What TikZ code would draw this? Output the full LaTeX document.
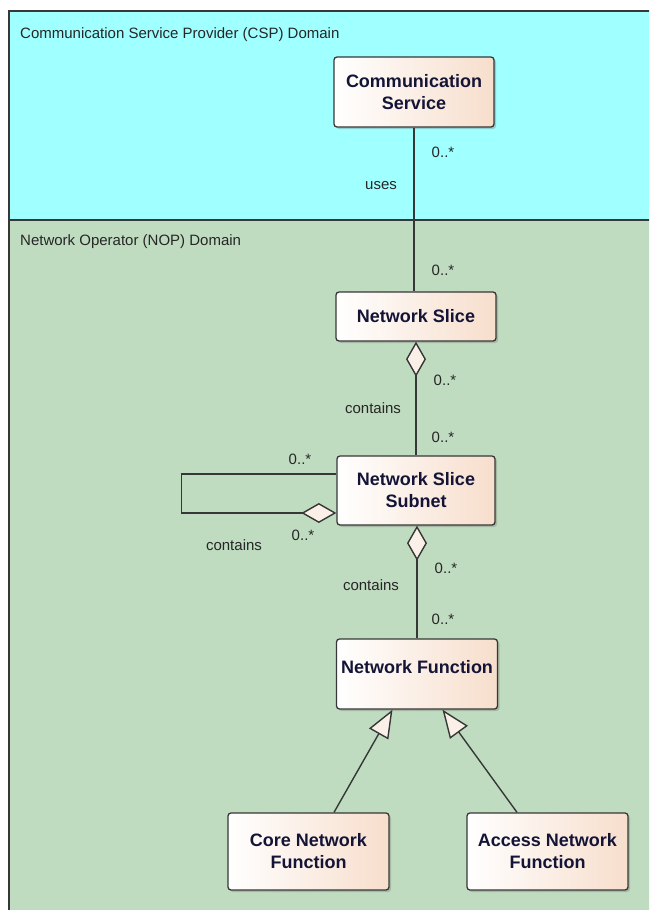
\documentclass[tikz,border=0pt]{standalone}
\usepackage{fontspec}
\setmainfont{Liberation Sans}
\usetikzlibrary{arrows.meta,shadows}

\definecolor{cspcyan}{RGB}{160,255,255}
\definecolor{nopgreen}{RGB}{192,220,192}
\definecolor{peach}{RGB}{247,222,204}
\definecolor{navy}{RGB}{20,20,55}
\definecolor{edge}{RGB}{55,55,55}

\tikzset{
    cls/.style={draw=edge, line width=1.3pt, rounded corners=3pt,
        left color=white, right color=peach,
        minimum width=160pt, minimum height=70pt, inner sep=2pt,
        align=center, text=navy, font=\bfseries\fontsize{18}{22}\selectfont,
        drop shadow={shadow xshift=2pt, shadow yshift=-2pt, opacity=0.3, fill=black!60}},
    lbl/.style={font=\fontsize{15}{18}\selectfont, text=black!85, inner sep=0pt},
    assoc/.style={draw=edge, line width=1.4pt},
    contain/.style={assoc, {Diamond[fill=peach!45!white, length=35pt, width=20pt]}-},
    isa/.style={assoc, -{Triangle[fill=peach!45!white, length=28pt, width=22pt]}}
}

\begin{document}
\begin{tikzpicture}[x=1pt, y=-1pt]
        \useasboundingbox (0,0) rectangle (649,910);
        \clip (0,0) rectangle (649,910);

        % domains
        \fill[cspcyan] (9,11) rectangle (670,220);
        \fill[nopgreen] (9,220) rectangle (670,930);
        \draw[edge, line width=1.5pt] (9,930) -- (9,11) -- (670,11);
        \draw[edge, line width=1.5pt] (9,220) -- (670,220);
        \node[lbl, anchor=west] (csp) at (20,35) {Communication Service Provider (CSP) Domain};
        \node[lbl, anchor=west] (nop) at (20,242) {Network Operator (NOP) Domain};

        % classes
        \node[cls] (cs) at (414,92) {Communication\\Service};
        \node[cls, minimum height=49pt] (ns) at (416,316.5) {Network Slice};
        \node[cls, minimum width=158pt, minimum height=69pt] (nss) at (416,490.5) {Network Slice\\Subnet};
        \node[cls, minimum width=161pt, text depth=14pt] (nf) at (417,674) {Network Function};
        \node[cls, minimum width=161pt, minimum height=77pt] (core) at (308.5,851.5) {Core Network\\Function};
        \node[cls, minimum width=161pt, minimum height=77pt] (access) at (547.5,851.5) {Access Network\\Function};

        % links
        \draw[assoc] (cs.south) -- (cs.south |- ns.north);
        \draw[contain] (ns.south) -- (nss.north);
        \draw[contain] (nss.south -| nf.north) -- (nf.north);
        \draw[contain] ([yshift=-22.5pt]nss.west) -- ++(-155,0) |- ([yshift=16.5pt]nss.west);
        \draw[isa] ([xshift=25.5pt]core.north) -- ([xshift=-24.5pt]nf.south);
        \draw[isa] ([xshift=-30.5pt]access.north) -- ([xshift=25.5pt]nf.south);

        % multiplicities and roles
        \foreach \n/\x/\y in {m1/443/152,m2/443/270,m3/445/380,m4/443/437,m5/300/459,m6/303/535,m7/446/568,m8/443/619}{
            \node[lbl] (\n) at (\x,\y) {0..*};
        }
        \node[lbl] (uses) at (381,186) {uses};
        \foreach \n/\x/\y in {c1/373/408,c2/234/545,c3/371/585}{
            \node[lbl] (\n) at (\x,\y) {contains};
        }
    \end{tikzpicture}
\end{document}
